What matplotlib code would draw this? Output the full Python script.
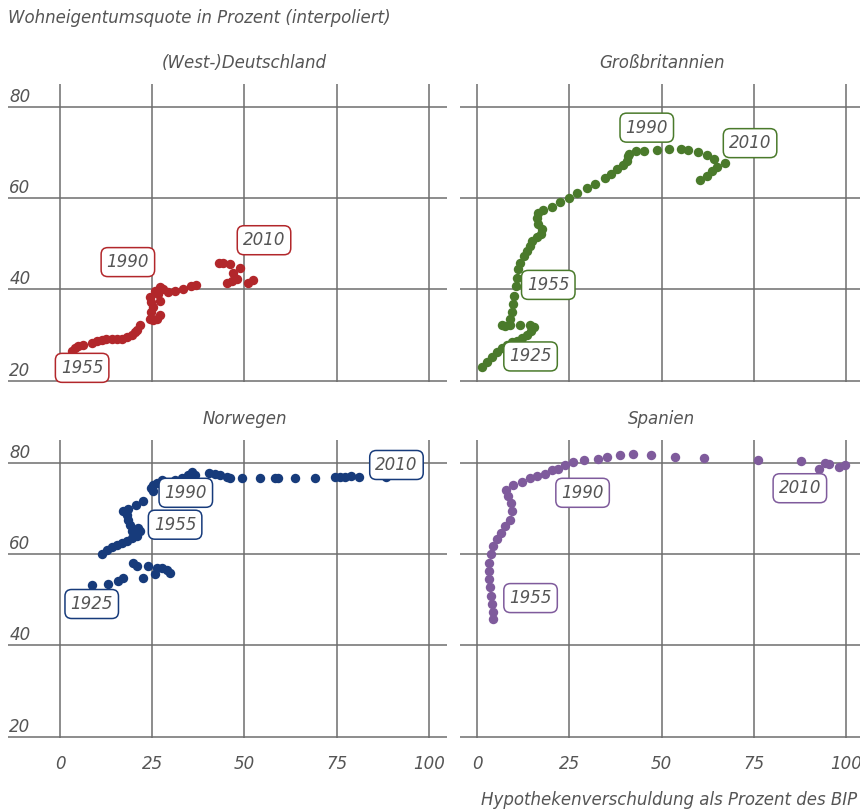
import matplotlib.pyplot as plt
from matplotlib import font_manager

# Wohneigentumsquote (y) vs. Hypothekenverschuldung in % des BIP (x)
de_x = [3.2, 4.1, 5.0, 6.3, 8.6, 9.9, 11.3, 12.6, 14.0, 15.4, 16.7, 18.1, 19.4,
        20.3, 21.0, 21.7,
        24.4, 25.3, 26.2, 27.1, 24.8, 25.1, 24.6, 24.4, 27.1, 26.6, 25.7, 27.1,
        28.0, 29.4, 31.2, 33.4, 35.4, 37.0,
        43.1, 44.3, 46.1, 48.8, 47.0, 48.0, 46.7, 45.2, 51.0, 52.4]
de_y = [26.6, 27.1, 27.5, 27.9, 28.3, 28.7, 29.0, 29.1, 29.1, 29.1, 29.1, 29.5, 30.0,
        30.6, 31.2, 32.2,
        33.5, 33.2, 33.5, 34.4, 35.0, 36.1, 37.2, 38.3, 37.5, 39.0, 39.7, 40.5,
        40.2, 39.4, 39.7, 40.2, 40.7, 41.0,
        45.8, 45.7, 45.5, 44.6, 43.6, 42.4, 41.9, 41.4, 41.5, 42.1]

gb_x = [1.3, 2.6, 4.0, 5.3, 6.7, 8.0, 9.4, 10.8, 12.1, 13.5, 14.5, 15.3, 14.4,
        11.7, 6.7, 7.6, 8.8,
        8.9, 9.4, 9.8, 10.1, 10.5, 10.8, 11.0, 11.7, 12.6, 13.6, 14.4, 14.8,
        16.2, 17.3, 17.5, 16.6, 16.2, 16.6, 17.8,
        20.2, 22.5, 24.8, 27.0, 29.7, 32.0, 34.7, 36.2, 37.9, 39.5, 40.6, 41.0,
        41.2, 43.1, 45.3, 48.7, 52.1, 55.2, 57.3, 60.0, 62.2, 64.2, 67.2, 65.1,
        63.6, 62.2, 60.4]
gb_y = [23.0, 24.1, 25.2, 26.3, 27.1, 27.9, 28.4, 28.8, 29.3, 29.9, 30.8, 31.7, 32.1,
        32.1, 32.1, 32.0, 32.1,
        33.5, 35.0, 36.8, 38.6, 40.8, 42.6, 44.5, 45.9, 47.4, 48.5, 49.5, 50.6,
        51.4, 52.1, 53.2, 54.3, 55.7, 56.8, 57.4,
        58.1, 59.1, 60.1, 61.2, 62.3, 63.2, 64.5, 65.4, 66.4, 67.4, 68.1, 69.2,
        69.8, 70.3, 70.4, 70.7, 70.9, 70.8, 70.7, 70.1, 69.6, 68.7, 67.7, 66.9,
        65.9, 65.0, 64.1]

no_x = [8.6, 13.1, 15.8, 17.2, 19.9, 20.8, 23.9, 22.4, 25.7, 26.2, 27.6, 29.1, 29.8,
        11.3, 12.7, 14.0, 15.4, 16.7, 18.1, 19.4, 20.8, 21.7, 21.2, 19.4, 19.0,
        18.5, 18.1, 17.2, 18.5, 20.6, 22.6, 25.3, 24.8, 25.3, 26.2, 27.6, 31.2,
        33.0, 34.8, 35.7,
        36.6, 40.5, 42.0, 43.3, 45.2, 46.2, 49.4, 54.2, 58.2, 59.2, 63.7, 69.1,
        74.5, 75.9, 77.2, 79.0, 81.1, 88.3]
no_y = [53.3, 53.5, 54.2, 54.7, 58.2, 57.5, 57.5, 54.9, 55.7, 57.1, 56.9, 56.6, 56.0,
        60.0, 60.9, 61.5, 62.0, 62.5, 63.0, 63.6, 64.1, 65.1, 65.8, 65.1, 66.5,
        67.6, 68.7, 69.4, 69.9, 70.9, 71.6, 73.8, 74.5, 75.2, 75.6, 76.2, 76.3,
        76.7, 77.4, 78.1,
        77.4, 77.8, 77.7, 77.4, 77.0, 76.7, 76.7, 76.7, 76.7, 76.7, 76.7, 76.7,
        76.9, 76.9, 76.9, 77.2, 76.9, 76.9]

es_x = [4.4, 4.2, 4.0, 3.8, 3.5, 3.3, 3.3, 3.3, 3.7, 4.4, 5.3, 6.4, 7.6, 8.8,
        9.4, 9.1, 8.5, 7.9, 9.8, 12.1, 14.4, 16.2,
        18.4, 20.2, 22.0, 23.8, 25.9, 29.0, 32.9, 35.1, 38.8, 42.4, 47.2, 53.7,
        61.6, 76.2, 87.7, 92.7, 94.3, 95.5, 98.0, 99.7]
es_y = [45.9, 47.3, 49.1, 50.9, 52.8, 54.6, 56.4, 58.2, 60.0, 61.8, 63.3, 64.7,
        66.2, 67.6, 69.4, 71.2, 72.7, 74.1, 75.2, 75.9, 76.7, 77.2,
        77.6, 78.5, 78.8, 79.6, 80.3, 80.7, 81.0, 81.4, 81.7, 82.1, 81.9, 81.4,
        81.2, 80.8, 80.5, 78.8, 80.1, 79.8, 79.2, 79.6]

# year labels: (text, x, y)
de_labels = [("1955", 6.0, 22.8), ("1990", 18.4, 46.0), ("2010", 55.3, 50.8)]
gb_labels = [("1925", 14.5, 25.3), ("1955", 19.3, 41.0), ("1990", 46.0, 75.5),
             ("2010", 74.0, 72.1)]
no_labels = [("1925", 8.6, 49.1), ("1955", 31.2, 66.5), ("1990", 34.1, 73.5),
             ("2010", 91.2, 79.6)]
es_labels = [("1955", 14.5, 50.4), ("1990", 28.6, 73.5), ("2010", 87.5, 74.5)]

x_ticks = [0, 25, 50, 75, 100]
y_ticks = [20, 40, 60, 80]

# pick a narrow font if there is one
names = {f.name for f in font_manager.fontManager.ttflist}
font = 'Liberation Sans Narrow' if 'Liberation Sans Narrow' in names else 'DejaVu Sans'
plt.rcParams['font.family'] = [font, 'DejaVu Sans']
plt.rcParams['font.style'] = 'italic'
txt_col = '#555555'
grid_col = '#6e6e6e'
fs = 15 if font != 'DejaVu Sans' else 12

fig = plt.figure(figsize=(8.6, 8.11), dpi=100)

panels = [
    ("(West-)Deutschland", de_x, de_y, de_labels, '#b2272b', [0.0097, 0.529, 0.5105, 0.367], True, False),
    ("Großbritannien", gb_x, gb_y, gb_labels, '#4a7a2b', [0.535, 0.529, 0.465, 0.367], False, False),
    ("Norwegen", no_x, no_y, no_labels, '#173b7b', [0.0097, 0.090, 0.5105, 0.367], True, True),
    ("Spanien", es_x, es_y, es_labels, '#7f5b9c', [0.535, 0.090, 0.465, 0.367], False, True),
]

for title, xs, ys, labels, col, rect, left, bottom in panels:
    ax = fig.add_axes(rect)
    if left:
        ax.set_xlim(-14, 105)
    else:
        ax.set_xlim(-4.6, 103.8)
    ax.set_ylim(19.7, 85)
    for s in ax.spines.values():
        s.set_visible(False)
    ax.set_xticks(x_ticks)
    ax.set_yticks(y_ticks)
    ax.grid(True, color=grid_col, lw=1.1)
    ax.set_axisbelow(True)
    ax.tick_params(axis='y', length=0, labelleft=False)
    ax.tick_params(axis='x', length=0, labelbottom=bottom, pad=12,
                   labelsize=fs, labelcolor=txt_col)

    ax.scatter(xs, ys, s=46, color=col, linewidths=0, zorder=3)

    for yr, lx, ly in labels:
        ax.text(lx, ly, yr, ha='center', va='center', fontsize=fs, color=txt_col,
                zorder=4, bbox=dict(boxstyle='round,pad=0.33,rounding_size=0.4',
                                    fc='white', ec=col, lw=1.1))

    if left:
        for v in y_ticks:
            ax.annotate(str(v), xy=(-14, v), xytext=(1, 5), textcoords='offset pixels',
                        ha='left', va='baseline', fontsize=fs, color=txt_col)

    ax.annotate(title, xy=(50, 1), xycoords=('data', 'axes fraction'),
                xytext=(0, 21), textcoords='offset pixels', ha='center', va='center',
                fontsize=fs, color=txt_col)

fig.text(0.009, 0.978, "Wohneigentumsquote in Prozent (interpoliert)", ha='left',
         va='center', fontsize=fs, color=txt_col)
fig.text(0.997, 0.014, "Hypothekenverschuldung als Prozent des BIP", ha='right',
         va='center', fontsize=fs, color=txt_col)

fig.savefig('out.png', dpi=100)
